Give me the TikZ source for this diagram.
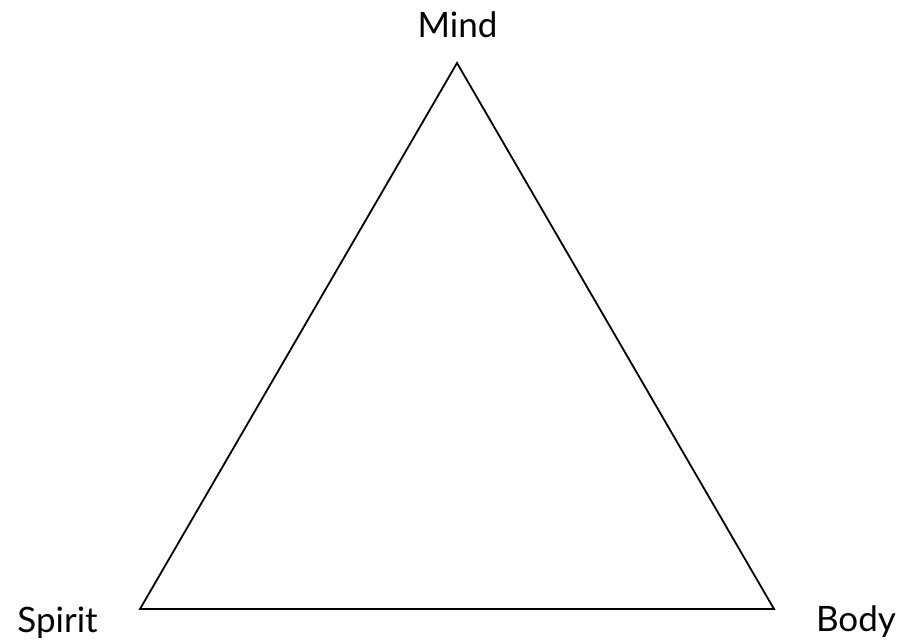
\documentclass[tikz,border=0pt]{standalone}
\usepackage{fontspec}
\setmainfont{Lato}
\begin{document}
\begin{tikzpicture}[x=1pt,y=-1pt,
  lbl/.style={anchor=base,inner sep=0pt,font=\fontsize{35}{42}\selectfont},
  edge/.style={draw=black,line width=1.8pt,line join=miter}]
\useasboundingbox (0,0) rectangle (901,640);
\coordinate (top) at (457,63);
\coordinate (left) at (140,609);
\coordinate (right) at (774,609);
\draw[edge] (top) -- (right) -- (left) -- cycle;
\node[lbl] (mind) at (457.5,37) {Mind};
\node[lbl] (spirit) at (57.5,632) {Spirit};
\node[lbl] (body) at (856,631) {Body};
\end{tikzpicture}
\end{document}
